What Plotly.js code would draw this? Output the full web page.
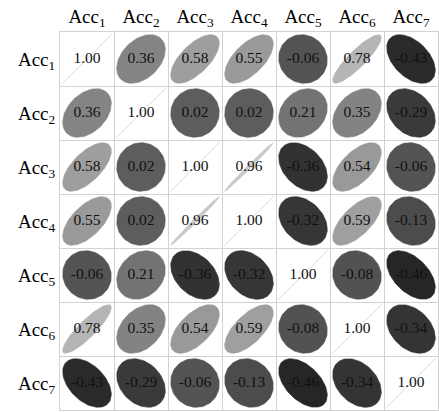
<!DOCTYPE html>
<html>
<head>
<meta charset="utf-8">
<script src="https://cdn.plot.ly/plotly-3.0.1.min.js"></script>
<style>html,body{margin:0;padding:0;background:#fff;}#chart{width:439px;height:412px;}</style>
</head>
<body>
<div id="chart"></div>
<script>
var labels = ["Acc<sub>1</sub>","Acc<sub>2</sub>","Acc<sub>3</sub>","Acc<sub>4</sub>","Acc<sub>5</sub>","Acc<sub>6</sub>","Acc<sub>7</sub>"];
var row1 = [1.00, 0.36, 0.58, 0.55, -0.06, 0.78, -0.43];
var row2 = [0.36, 1.00, 0.02, 0.02, 0.21, 0.35, -0.29];
var row3 = [0.58, 0.02, 1.00, 0.96, -0.36, 0.54, -0.06];
var row4 = [0.55, 0.02, 0.96, 1.00, -0.32, 0.59, -0.13];
var row5 = [-0.06, 0.21, -0.36, -0.32, 1.00, -0.08, -0.46];
var row6 = [0.78, 0.35, 0.54, 0.59, -0.08, 1.00, -0.34];
var row7 = [-0.43, -0.29, -0.06, -0.13, -0.46, -0.34, 1.00];
var matrix = [row1, row2, row3, row4, row5, row6, row7];

function grayOf(r) {
  var g = Math.round(91 + 115 * r);
  g = Math.max(0, Math.min(255, g));
  return 'rgb(' + g + ',' + g + ',' + g + ')';
}

var traces = [];
var S = 0.9, N = 90, P = 0.9;
var tx = [], ty = [], tt = [];
for (var i = 0; i < matrix.length; i++) {
  for (var j = 0; j < matrix[i].length; j++) {
    var r = Math.max(-1, Math.min(1, matrix[i][j]));
    var q = Math.pow(1 - Math.abs(r), P);
    var major = S / 2 * Math.sqrt(2 / (1 + q * q));
    var minor = q * major;
    var A = r >= 0 ? major : minor;   // along visual up-right diagonal
    var B = r >= 0 ? minor : major;   // along visual down-right diagonal
    var cx = j + 1, cy = i + 1;
    var xs = [], ys = [];
    for (var k = 0; k <= N; k++) {
      var t = 2 * Math.PI * k / N;
      var u = A * Math.cos(t), v = B * Math.sin(t);
      xs.push(cx + (u + v) / Math.SQRT2);
      ys.push(cy - (u - v) / Math.SQRT2);
    }
    var col = grayOf(r);
    var isLine = Math.abs(r) >= 0.999;
    traces.push({
      type: 'scatter', mode: 'lines', x: xs, y: ys,
      fill: isLine ? 'none' : 'toself', fillcolor: col,
      line: {color: isLine ? 'rgb(222,222,222)' : col, width: isLine ? 1 : 0.6},
      hoverinfo: 'skip', showlegend: false
    });
    tx.push(cx); ty.push(cy); tt.push(matrix[i][j].toFixed(2));
  }
}
traces.push({
  type: 'scatter', mode: 'text', x: tx, y: ty, text: tt,
  textposition: 'middle center',
  textfont: {family: 'Liberation Serif', size: 15.5, color: '#111'},
  hoverinfo: 'skip', showlegend: false
});

var ticks = [1,2,3,4,5,6,7];
var axisCommon = {
  tickvals: ticks, ticktext: labels,
  showgrid: false, zeroline: false,
  showline: true, mirror: true, linecolor: '#d2d2d2', linewidth: 1,
  minor: {tick0: 0.5, dtick: 1, showgrid: true, gridcolor: '#d2d2d2', gridwidth: 1, ticks: ''},
  ticks: '',
  tickfont: {family: 'Liberation Serif', size: 19, color: '#000'},
  fixedrange: true
};
var layout = {
  width: 439, height: 412,
  margin: {l: 60, r: 1, t: 32, b: 2, pad: 0},
  paper_bgcolor: '#fff', plot_bgcolor: '#fff',
  xaxis: Object.assign({}, axisCommon, {range: [0.5, 7.5], side: 'top'}),
  yaxis: Object.assign({}, axisCommon, {range: [7.5, 0.5]}),
  showlegend: false
};
Plotly.newPlot('chart', traces, layout, {displayModeBar: false, staticPlot: true});
</script>
</body>
</html>
